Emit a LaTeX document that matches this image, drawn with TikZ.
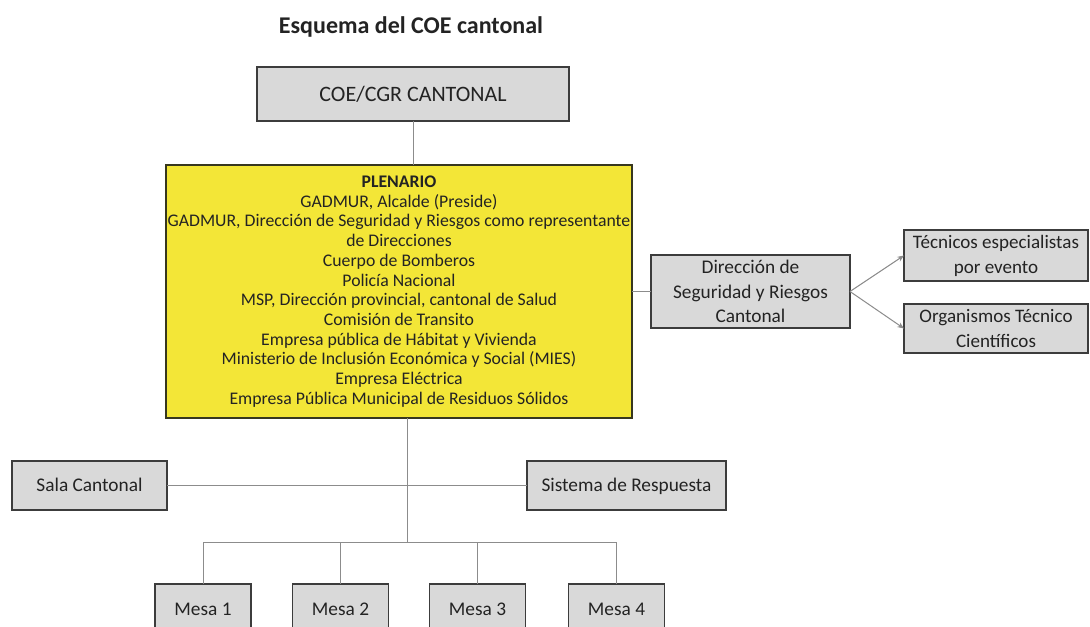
\documentclass[tikz,border=0pt]{standalone}
\usepackage{fontspec}
\setmainfont{Carlito}
\usetikzlibrary{arrows.meta}
\definecolor{boxgray}{RGB}{217,217,217}
\definecolor{boxedge}{RGB}{60,60,60}
\definecolor{plenyellow}{RGB}{243,230,55}
\definecolor{plenedge}{RGB}{55,55,30}
\definecolor{linkgray}{RGB}{140,140,140}
\definecolor{txt}{RGB}{35,35,35}
\tikzset{
  graybox/.style={draw=boxedge, fill=boxgray, line width=0.9pt, inner sep=0pt, outer sep=0pt,
    align=center, text=txt, font=\fontsize{14.5}{18.5}\selectfont},
  oneline/.style={text height=9pt, text depth=0pt},
  link/.style={draw=linkgray, line width=0.75pt},
  arrowlink/.style={link, -{Stealth[length=5pt,width=4pt]}},
}
\begin{document}
\begin{tikzpicture}[x=0.75pt,y=-0.75pt]
\useasboundingbox (0,0) rectangle (1090,626);
\clip (0,0) rectangle (1090,626);
\fill[white] (0,0) rectangle (1090,626);

\node[anchor=base, text=txt, font=\fontsize{18}{22}\selectfont\bfseries] (title) at (411,33) {Esquema del COE cantonal};

\node[graybox, oneline, minimum width=234pt, minimum height=40.5pt, font=\fontsize{16.5}{20}\selectfont, text height=10.5pt] (coe) at (413,94) {COE/CGR CANTONAL};

\node[draw=plenedge, fill=plenyellow, line width=1pt, inner sep=0pt, outer sep=0pt,
      minimum width=349.5pt, minimum height=189.75pt, align=center, text=txt,
      font=\fontsize{13.3}{14.8}\selectfont] (plen) at (399,291.5)
 {\textbf{PLENARIO}\\
  GADMUR, Alcalde (Preside)\\
  GADMUR, Dirección de Seguridad y Riesgos como representante\\
  de Direcciones\\
  Cuerpo de Bomberos\\
  Policía Nacional\\
  MSP, Dirección provincial, cantonal de Salud\\
  Comisión de Transito\\
  Empresa pública de Hábitat y Vivienda\\
  Ministerio de Inclusión Económica y Social (MIES)\\
  Empresa Eléctrica\\
  Empresa Pública Municipal de Residuos Sólidos};

\node[graybox, minimum width=149.25pt, minimum height=54.75pt] (dir) at (750.5,291.5)
 {Dirección de\\Seguridad y Riesgos\\Cantonal};
\node[graybox, minimum width=138pt, minimum height=38.25pt, font=\fontsize{14.3}{18.75}\selectfont] (tec) at (996,255.5)
 {Técnicos especialistas\\por evento};
\node[graybox, minimum width=138pt, minimum height=36.75pt, font=\fontsize{14.3}{18.75}\selectfont] (org) at (996,328.5)
 {Organismos Técnico\\Científicos};

\node[graybox, oneline, minimum width=116.25pt, minimum height=36.75pt] (sala) at (89.5,485.5) {Sala Cantonal};
\node[graybox, oneline, minimum width=149.25pt, minimum height=36.75pt] (sist) at (626.5,485.5) {Sistema de Respuesta};

\node[graybox, oneline, minimum width=72pt, minimum height=37.5pt] (m1) at (203,609) {Mesa 1};
\node[graybox, oneline, minimum width=72pt, minimum height=37.5pt] (m2) at (340.5,609) {Mesa 2};
\node[graybox, oneline, minimum width=72pt, minimum height=37.5pt] (m3) at (477.5,609) {Mesa 3};
\node[graybox, oneline, minimum width=72pt, minimum height=37.5pt] (m4) at (616.5,609) {Mesa 4};

\coordinate (hub) at (407,542);

\draw[link] (coe.south) -- (coe.south |- plen.north);
\draw[link] (plen.east |- dir.west) -- (dir.west);
\draw[arrowlink] (dir.east) -- (tec.west);
\draw[arrowlink] (dir.east) -- (org.west);
\draw[link] (hub |- plen.south) -- (hub);
\draw[link] (sala.east) -- (sist.west);
\draw[link] (m1.north |- hub) -- (m4.north |- hub);
\draw[link] (m1.north |- hub) -- (m1.north);
\draw[link] (m2.north |- hub) -- (m2.north);
\draw[link] (m3.north |- hub) -- (m3.north);
\draw[link] (m4.north |- hub) -- (m4.north);
\end{tikzpicture}
\end{document}
